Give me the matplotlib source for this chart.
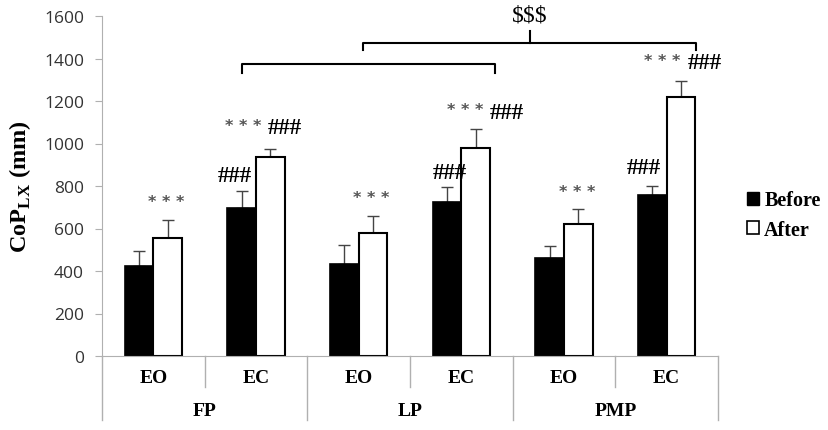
import numpy as np
import matplotlib
matplotlib.use("Agg")
import matplotlib.pyplot as plt
from matplotlib.patches import Patch
import matplotlib.transforms as mtransforms

# data
groups = ["FP", "LP", "PMP"]
conditions = ["EO", "EC", "EO", "EC", "EO", "EC"]
before = [422, 697, 432, 724, 462, 757]
before_err = [72, 79, 92, 72, 56, 45]
after = [557, 937, 581, 980, 623, 1221]
after_err = [83, 38, 78, 88, 68, 71]

serif = "Liberation Serif"
plt.rcParams["font.family"] = serif

fig = plt.figure(figsize=(8.29, 4.31), dpi=100)
ax = fig.add_axes([102 / 829, 1 - 357 / 431, 616 / 829, 340 / 431])

x = np.arange(len(conditions))
w = 0.28
ax.bar(x - w / 2, before, w, color="black", edgecolor="black", lw=1.2, zorder=2)
ax.bar(x + w / 2, after, w, color="white", edgecolor="black", lw=1.5, zorder=2)
ax.errorbar(x - w / 2, before, yerr=[np.zeros(6), before_err], fmt="none",
            ecolor="#444444", elinewidth=1, capsize=4, zorder=1)
ax.errorbar(x + w / 2, after, yerr=[np.zeros(6), after_err], fmt="none",
            ecolor="#444444", elinewidth=1, capsize=4, zorder=1)

ax.set_xlim(-0.5, 5.5)
ax.set_ylim(0, 1600)
ax.set_yticks(np.arange(0, 1601, 200))
ax.set_xticks([])
for s in ["top", "right"]:
    ax.spines[s].set_visible(False)
for s in ["left", "bottom"]:
    ax.spines[s].set_color("#b0b0b0")
ax.tick_params(axis="y", length=5, pad=8, color="#b0b0b0", labelsize=12.5,
               labelcolor="#333333")
for lab in ax.get_yticklabels():
    lab.set_fontfamily("Open Sans")

ax.set_ylabel("CoP$_{\\mathregular{LX}}$ (mm)", fontsize=17.5, fontweight="bold")
ax.yaxis.set_label_coords(-0.112, 0.5)

# two level category axis
trans = mtransforms.blended_transform_factory(ax.transData, ax.transAxes)
for i, c in enumerate(conditions):
    ax.text(i, -0.062, c, transform=trans, ha="center", va="center",
            fontsize=14, fontweight="bold")
for g, name in enumerate(groups):
    ax.text(2 * g + 0.5, -0.159, name, transform=trans, ha="center", va="center",
            fontsize=14, fontweight="bold")
for b in np.arange(-0.5, 6, 1):
    low = -0.188 if int(b + 0.5) % 2 == 0 else -0.091
    ax.plot([b, b], [0, low], transform=trans, color="#b0b0b0", lw=1, clip_on=False)

# significance marks: (category, dx, dy above error bar, text, which bar)
marks = [
    (0, 0.13, 88, "***", "after"),
    (1, -0.21, 73, "###", "before"),
    (1, -0.12, 108, "***", "after"),
    (1, 0.28, 99, "###", "after"),
    (2, 0.12, 86, "***", "after"),
    (3, -0.11, 69, "###", "before"),
    (3, 0.04, 90, "***", "after"),
    (3, 0.44, 80, "###", "after"),
    (4, 0.13, 85, "***", "after"),
    (5, -0.22, 83, "###", "before"),
    (5, -0.04, 100, "***", "after"),
    (5, 0.37, 88, "###", "after"),
]
for i, dx, dy, txt, which in marks:
    top = before[i] + before_err[i] if which == "before" else after[i] + after_err[i]
    if txt == "***":
        ax.text(i + dx, top + dy, "* * *", ha="center", va="center", fontsize=11.5,
                color="#555555", fontfamily="DejaVu Sans", fontweight="bold")
    else:
        ax.text(i + dx, top + dy, txt, ha="center", va="center", fontsize=16.5,
                fontweight="bold")

# brackets
ax.plot([1 - 0.14, 1 - 0.14, 3 + 0.33, 3 + 0.33], [1333, 1372, 1372, 1333],
        color="black", lw=1.5, clip_on=False)
ax.plot([2.04, 2.04, 5.29, 5.29], [1438, 1473, 1473, 1438],
        color="black", lw=1.5, clip_on=False)
ax.plot([3.67, 3.67], [1473, 1529], color="black", lw=1.5, clip_on=False)
ax.text(3.67, 1603, r"\$\$\$", ha="center", va="center", fontsize=17, clip_on=False)

handles = [Patch(facecolor="black", edgecolor="black"),
           Patch(facecolor="white", edgecolor="black", lw=1.2)]
fig.legend(handles, ["Before", "After"], loc="center left",
           bbox_to_anchor=(729 / 829, 1 - 216 / 431), frameon=False,
           prop={"family": serif, "weight": "bold", "size": 14.5},
           handlelength=0.6, handleheight=0.6, handletextpad=0.25, labelspacing=0.45)

fig.savefig("out.png", dpi=100)
